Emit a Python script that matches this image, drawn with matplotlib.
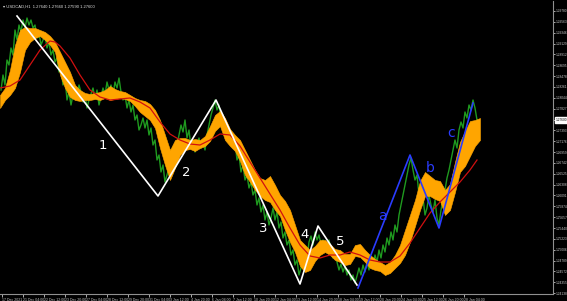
import numpy as np
import matplotlib
matplotlib.use("Agg")
import matplotlib.pyplot as plt
import matplotlib.transforms as mtransforms

# close prices (H1 bars, every second bar)
price_x = np.arange(1, 478, 2)
price_close = [
    1.2820, 1.2850, 1.2830, 1.2880, 1.2870, 1.2904, 1.2890, 1.2940, 1.2920, 1.2950,
    1.2936, 1.2960, 1.2944, 1.2964, 1.2950, 1.2960, 1.2944, 1.2950, 1.2924, 1.2934,
    1.2910, 1.2920, 1.2930, 1.2904, 1.2916, 1.2890, 1.2900, 1.2876, 1.2884, 1.2856,
    1.2864, 1.2830, 1.2844, 1.2800, 1.2816, 1.2790, 1.2810, 1.2824, 1.2804, 1.2830,
    1.2816, 1.2796, 1.2810, 1.2784, 1.2800, 1.2812, 1.2824, 1.2804, 1.2820, 1.2790,
    1.2806, 1.2824, 1.2810, 1.2836, 1.2820, 1.2830, 1.2810, 1.2836, 1.2824, 1.2844,
    1.2816, 1.2800, 1.2810, 1.2784, 1.2800, 1.2776, 1.2790, 1.2760, 1.2770, 1.2740,
    1.2750, 1.2764, 1.2744, 1.2760, 1.2730, 1.2744, 1.2710, 1.2720, 1.2680, 1.2690,
    1.2656, 1.2670, 1.2636, 1.2650, 1.2664, 1.2680, 1.2660, 1.2690, 1.2710, 1.2730,
    1.2750, 1.2736, 1.2760, 1.2724, 1.2740, 1.2704, 1.2716, 1.2696, 1.2710, 1.2724,
    1.2704, 1.2720, 1.2700, 1.2730, 1.2750, 1.2770, 1.2784, 1.2800, 1.2780, 1.2790,
    1.2760, 1.2770, 1.2740, 1.2750, 1.2720, 1.2730, 1.2704, 1.2716, 1.2680, 1.2690,
    1.2656, 1.2670, 1.2640, 1.2650, 1.2624, 1.2636, 1.2610, 1.2620, 1.2590, 1.2604,
    1.2576, 1.2590, 1.2560, 1.2576, 1.2550, 1.2564, 1.2584, 1.2560, 1.2576, 1.2544,
    1.2556, 1.2524, 1.2536, 1.2510, 1.2520, 1.2490, 1.2500, 1.2470, 1.2480, 1.2450,
    1.2464, 1.2476, 1.2496, 1.2484, 1.2516, 1.2528, 1.2510, 1.2536, 1.2520, 1.2530,
    1.2510, 1.2520, 1.2496, 1.2504, 1.2520, 1.2500, 1.2484, 1.2496, 1.2476, 1.2460,
    1.2472, 1.2456, 1.2468, 1.2450, 1.2460, 1.2440, 1.2450, 1.2434, 1.2448, 1.2464,
    1.2450, 1.2470, 1.2456, 1.2476, 1.2460, 1.2484, 1.2468, 1.2490, 1.2476, 1.2500,
    1.2484, 1.2510, 1.2496, 1.2524, 1.2510, 1.2536, 1.2520, 1.2550, 1.2536, 1.2570,
    1.2590, 1.2610, 1.2630, 1.2650, 1.2670, 1.2684, 1.2660, 1.2640, 1.2650, 1.2610,
    1.2590, 1.2604, 1.2570, 1.2584, 1.2610, 1.2590, 1.2576, 1.2600, 1.2564, 1.2550,
    1.2580, 1.2600, 1.2620, 1.2644, 1.2660, 1.2680, 1.2700, 1.2720, 1.2704, 1.2740,
    1.2756, 1.2744, 1.2776, 1.2764, 1.2790, 1.2780, 1.2800, 1.2784, 1.2760,
]

# orange band (indicator), every fifth bar
band_x = np.arange(0, 485, 5)
band_top = [
    1.2810, 1.2824, 1.2860, 1.2910, 1.2940, 1.2946, 1.2944, 1.2944, 1.2940, 1.2936,
    1.2928, 1.2916, 1.2896, 1.2876, 1.2856, 1.2830, 1.2820, 1.2814, 1.2812, 1.2814,
    1.2816, 1.2820, 1.2828, 1.2822, 1.2818, 1.2816, 1.2810, 1.2804, 1.2800, 1.2798,
    1.2792, 1.2780, 1.2760, 1.2730, 1.2700, 1.2720, 1.2724, 1.2724, 1.2720, 1.2722,
    1.2720, 1.2728, 1.2748, 1.2770, 1.2778, 1.2764, 1.2742, 1.2730, 1.2720, 1.2700,
    1.2680, 1.2660, 1.2644, 1.2640, 1.2648, 1.2630, 1.2610, 1.2598, 1.2580, 1.2550,
    1.2520, 1.2510, 1.2500, 1.2508, 1.2520, 1.2520, 1.2512, 1.2502, 1.2500, 1.2492,
    1.2492, 1.2510, 1.2512, 1.2500, 1.2490, 1.2482, 1.2476, 1.2470, 1.2476, 1.2490,
    1.2510, 1.2540, 1.2570, 1.2600, 1.2638, 1.2656, 1.2648, 1.2640, 1.2638, 1.2620,
    1.2632, 1.2676, 1.2716, 1.2738, 1.2758, 1.2760, 1.2764,
]
band_bottom = [
    1.2784, 1.2800, 1.2810, 1.2824, 1.2856, 1.2900, 1.2916, 1.2924, 1.2928, 1.2920,
    1.2910, 1.2896, 1.2850, 1.2824, 1.2806, 1.2800, 1.2798, 1.2800, 1.2800, 1.2802,
    1.2800, 1.2804, 1.2800, 1.2802, 1.2804, 1.2802, 1.2798, 1.2788, 1.2776, 1.2768,
    1.2760, 1.2744, 1.2704, 1.2670, 1.2640, 1.2664, 1.2690, 1.2700, 1.2702, 1.2698,
    1.2704, 1.2708, 1.2718, 1.2738, 1.2748, 1.2720, 1.2708, 1.2698, 1.2678, 1.2650,
    1.2636, 1.2620, 1.2608, 1.2600, 1.2596, 1.2580, 1.2568, 1.2540, 1.2516, 1.2496,
    1.2468, 1.2456, 1.2460, 1.2478, 1.2490, 1.2496, 1.2490, 1.2480, 1.2476, 1.2470,
    1.2472, 1.2488, 1.2486, 1.2476, 1.2464, 1.2460, 1.2458, 1.2450, 1.2454, 1.2464,
    1.2474, 1.2490, 1.2516, 1.2548, 1.2580, 1.2608, 1.2608, 1.2602, 1.2598, 1.2570,
    1.2580, 1.2616, 1.2656, 1.2668, 1.2688, 1.2708, 1.2720,
]

# moving average
ma_x = [0, 10, 20, 30, 40, 50, 55, 60, 70, 80, 90, 100, 110, 120, 130, 140, 150, 160,
        170, 180, 190, 200, 210, 220, 230, 240, 250, 260, 270, 280, 290, 300, 310, 320,
        330, 340, 350, 360, 370, 380, 390, 400, 410, 420, 430, 440, 450, 460, 470, 477]
ma_val = [1.2824, 1.2828, 1.2840, 1.2870, 1.2900, 1.2918, 1.2916, 1.2908, 1.2884, 1.2850,
          1.2820, 1.2806, 1.2800, 1.2802, 1.2804, 1.2796, 1.2784, 1.2756, 1.2732, 1.2720,
          1.2712, 1.2710, 1.2720, 1.2732, 1.2730, 1.2708, 1.2676, 1.2644, 1.2612, 1.2580,
          1.2544, 1.2510, 1.2488, 1.2484, 1.2490, 1.2490, 1.2496, 1.2490, 1.2480, 1.2476,
          1.2476, 1.2488, 1.2514, 1.2544, 1.2574, 1.2596, 1.2616, 1.2636, 1.2660, 1.2680]

# wave counts
impulse_x = [17, 158, 216, 300, 318, 357]
impulse_y = [1.2968, 1.2608, 1.2800, 1.2432, 1.2548, 1.2430]
impulse_labels = ["1", "2", "3", "4", "5"]
impulse_label_x = [103, 186, 263, 305, 340]
impulse_label_y = [1.2710, 1.2656, 1.2544, 1.2532, 1.2518]

corr_x = [358, 410, 439, 473]
corr_y = [1.2424, 1.2690, 1.2544, 1.2794]
corr_labels = ["a", "b", "c"]
corr_label_x = [382, 430, 451]
corr_label_y = [1.2568, 1.2664, 1.2734]

price_ticks = [1.29780, 1.29563, 1.29346, 1.29129, 1.28912, 1.28695, 1.28478, 1.28261,
               1.28044, 1.27827, 1.27610, 1.27393, 1.27176, 1.26959, 1.26742, 1.26525,
               1.26308, 1.26091, 1.25874, 1.25657, 1.25440, 1.25223, 1.25006, 1.24789,
               1.24572, 1.24355, 1.24138]
time_labels = ["17 Dec 2021", "21 Dec 04:00", "22 Dec 12:00", "23 Dec 20:00", "27 Dec 04:00",
               "28 Dec 12:00", "29 Dec 20:00", "31 Dec 04:00", "3 Jan 12:00", "4 Jan 20:00",
               "6 Jan 04:00", "7 Jan 12:00", "10 Jan 20:00", "12 Jan 04:00", "13 Jan 12:00",
               "14 Jan 20:00", "18 Jan 04:00", "19 Jan 12:00", "20 Jan 20:00", "24 Jan 04:00",
               "25 Jan 12:00", "26 Jan 20:00", "28 Jan 04:00"]
title_text = "USDCAD,H1  1.27640 1.27660 1.27590 1.27600"

plt.rcParams["font.family"] = ["Liberation Sans", "DejaVu Sans"]

fig = plt.figure(figsize=(5.67, 3.01), dpi=100, facecolor="black")
ax = fig.add_axes([0.0, 7 / 301, 553 / 567, 293 / 301], facecolor="black")

ax.fill_between(band_x, band_bottom, band_top, color="#ffa500", linewidth=0.4,
                edgecolor="#ffa500", zorder=2)
ax.plot(price_x, price_close, color="#1f9a1f", linewidth=1.0, zorder=1)
ax.plot(ma_x, ma_val, color="#d01010", linewidth=0.9, zorder=3)
ax.plot(impulse_x, impulse_y, color="white", linewidth=1.2, zorder=4)
ax.plot(corr_x, corr_y, color="#2a3cff", linewidth=1.2, zorder=4)

for lab, lx, ly in zip(impulse_labels, impulse_label_x, impulse_label_y):
    ax.text(lx, ly, lab, color="white", fontsize=9.5, ha="center", va="center", zorder=5,
            family="DejaVu Sans")
for lab, lx, ly in zip(corr_labels, corr_label_x, corr_label_y):
    ax.text(lx, ly, lab, color="#2a3cff", fontsize=10, ha="center", va="center", zorder=5,
            family="DejaVu Sans")

ax.set_xlim(0, 553)
ax.set_ylim(1.2412, 1.2998)

ax.yaxis.tick_right()
ax.set_yticks(price_ticks)
ax.set_yticklabels([f"{v:.5f}" for v in price_ticks])
ax.set_xticks(2 + 21 * np.arange(len(time_labels)))
ax.set_xticklabels(time_labels)
for t in ax.get_xticklabels():
    t.set_horizontalalignment("left")
ax.tick_params(axis="x", colors="#c8c8c8", labelsize=2.5, length=2, width=0.6, pad=1)
ax.tick_params(axis="y", colors="#c8c8c8", labelsize=2.3, length=1.5, width=0.6, pad=0.6)

for side in ["left", "top"]:
    ax.spines[side].set_visible(False)
for side in ["right", "bottom"]:
    ax.spines[side].set_color("#909090")
    ax.spines[side].set_linewidth(0.8)

# current price marker
trans = mtransforms.blended_transform_factory(ax.transAxes, ax.transData)
ax.text(1.004, price_close[-1], f"{price_close[-1]:.5f}", transform=trans, fontsize=2.3,
        color="black", va="center", ha="left",
        bbox=dict(boxstyle="square,pad=0.2", facecolor="white", edgecolor="white"))

fig.text(0.006, 0.985, "\u25be " + title_text, color="#e0e0e0", fontsize=3.0, va="top", ha="left")

fig.savefig("out.png", dpi=100, facecolor="black")
